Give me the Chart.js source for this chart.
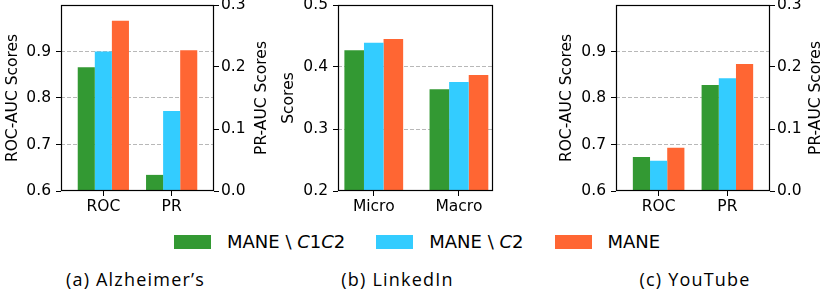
<!DOCTYPE html>
<html>
<head>
<meta charset="utf-8">
<script src="https://cdn.jsdelivr.net/npm/chart.js@4"></script>
<style>
  html, body { margin: 0; padding: 0; background: #fff; }
  body { width: 820px; height: 298px; position: relative; overflow: hidden; }
  .panel { position: absolute; top: 0; }
  #legend { position: absolute; top: 231px; left: 174px; display: flex; align-items: center;
    font-family: "DejaVu Sans"; font-size: 18px; color: #000; white-space: nowrap; }
  .item { display: flex; align-items: center; margin-right: 31px; }
  .swatch { width: 37px; height: 14px; margin-right: 16px; }
  .caption { position: absolute; top: 267px; font-family: "Open Sans"; font-size: 18px; letter-spacing: 1.2px;
    color: #000; transform: translateX(-50%); white-space: nowrap; }
</style>
</head>
<body>
<canvas id="alz" class="panel" width="275" height="218" style="left:0px"></canvas>
<canvas id="linkedin" class="panel" width="222" height="218" style="left:276px"></canvas>
<canvas id="youtube" class="panel" width="275" height="218" style="left:554px"></canvas>
<div id="legend"></div>
<div class="caption" style="left:135.5px">(a) Alzheimer’s</div>
<div class="caption" style="left:397.5px">(b) LinkedIn</div>
<div class="caption" style="left:695px">(c) YouTube</div>
<script>
const methods = ['MANE \\ <i>C</i>1<i>C</i>2', 'MANE \\ <i>C</i>2', 'MANE'];
const colors = ['#339933', '#33ccff', '#ff6633'];

// (a) Alzheimer's: ROC on left axis, PR on right axis
const alzCategories = ['ROC', 'PR'];
const alzRoc = [0.866, 0.900, 0.966];
const alzPr = [0.026, 0.129, 0.227];

// (b) LinkedIn
const linkedinCategories = ['Micro', 'Macro'];
const linkedinMicro = [0.427, 0.439, 0.445];
const linkedinMacro = [0.364, 0.376, 0.387];

// (c) YouTube
const youtubeCategories = ['ROC', 'PR'];
const youtubeRoc = [0.673, 0.665, 0.693];
const youtubePr = [0.171, 0.182, 0.205];

const rocTicks = [0.6, 0.7, 0.8, 0.9];
const prTicks = [0.0, 0.1, 0.2, 0.3];
const scoreTicks = [0.2, 0.3, 0.4, 0.5];

const FS = 15.5;
const font = { family: 'DejaVu Sans', size: FS };

// legend (html, shared by the three panels)
const legend = document.getElementById('legend');
methods.forEach((m, i) => {
  const item = document.createElement('div');
  item.className = 'item';
  item.innerHTML = '<div class="swatch" style="background:' + colors[i] + '"></div><span>' + m + '</span>';
  legend.appendChild(item);
});

// black box around the plot area
const frame = {
  id: 'frame',
  afterDatasetsDraw(chart) {
    const {ctx, chartArea: a} = chart;
    const l = Math.round(a.left) + 0.5, t = Math.round(a.top) + 0.5;
    const r = Math.round(a.right) - 0.5, b = Math.round(a.bottom) - 0.5;
    ctx.save();
    ctx.strokeStyle = '#000';
    ctx.lineWidth = 1.2;
    ctx.strokeRect(l, t, r - l, b - t);
    ctx.restore();
  }
};

// right axis title, reading bottom to top like the left one
const rightTitle = {
  id: 'rightTitle',
  afterDraw(chart, args, opts) {
    const s = chart.scales.y1;
    if (!s || !opts.text) return;
    const ctx = chart.ctx;
    ctx.save();
    ctx.font = FS + 'px "DejaVu Sans"';
    ctx.fillStyle = '#000';
    ctx.textAlign = 'center';
    ctx.textBaseline = 'middle';
    ctx.translate(s.right - 4 - FS * 0.6, (chart.chartArea.top + chart.chartArea.bottom) / 2);
    ctx.rotate(-Math.PI / 2);
    ctx.fillText(opts.text, 0, 0);
    ctx.restore();
  }
};

function yScale(ticks, position, width, title, withGrid) {
  const lo = ticks[0];
  return {
    type: 'linear',
    position: position,
    min: lo,
    max: position === 'left' && title !== 'Scores' ? 1.0 : ticks[ticks.length - 1],
    afterBuildTicks: s => { s.ticks = ticks.map(v => ({value: v})); },
    afterFit: s => { s.width = width; s.paddingTop = 0; s.paddingBottom = 0; },
    ticks: { color: '#000', font, padding: position === 'left' ? 5 : 2, callback: v => v.toFixed(1) },
    grid: {
      drawOnChartArea: withGrid,
      color: c => (c.tick && (c.tick.value === lo || c.tick.value === 0.5)) ? 'rgba(0,0,0,0)' : '#b8b8b8',
      lineWidth: 1,
      tickLength: 5,
      tickColor: '#000',
      tickWidth: 1
    },
    border: { display: false, dash: [4, 2] },
    title: { display: position === 'left', text: title, color: '#000', font, padding: {top: 4, bottom: 4} }
  };
}

function xScale(categories, min, max) {
  return {
    type: 'linear',
    min: min,
    max: max,
    offset: false,
    afterBuildTicks: s => { s.ticks = categories.map((_, i) => ({value: i})); },
    afterFit: s => { s.height = 27; s.paddingLeft = 0; s.paddingRight = 0; },
    ticks: { color: '#000', font, padding: 2, maxRotation: 0, autoSkip: false, callback: (v, i) => categories[i] },
    grid: { offset: false, drawOnChartArea: false, tickLength: 5, tickColor: '#000', tickWidth: 1 },
    border: { display: false }
  };
}

function baseOptions(groupWidth, rightText) {
  return {
    responsive: false,
    animation: false,
    layout: { padding: { top: 5, right: 0, left: 0, bottom: 0 } },
    datasets: { bar: { skipNull: true, categoryPercentage: groupWidth, barPercentage: 1, borderWidth: 0 } },
    plugins: { legend: { display: false }, tooltip: { enabled: false }, rightTitle: { text: rightText } }
  };
}

// panel with two metrics on two y axes
function dualChart(id, categories, first, second, leftWidth, rightWidth) {
  const datasets = [];
  methods.forEach((m, i) => datasets.push({ label: m, data: [first[i], null], backgroundColor: colors[i], yAxisID: 'y' }));
  methods.forEach((m, i) => datasets.push({ label: m, data: [null, second[i]], backgroundColor: colors[i], yAxisID: 'y1' }));
  const options = baseOptions(0.75, 'PR-AUC Scores');
  options.scales = {
    x: xScale(categories, -0.62, 1.62),
    y: yScale(rocTicks, 'left', leftWidth, 'ROC-AUC Scores', true),
    y1: yScale(prTicks, 'right', rightWidth, 'PR-AUC Scores', false)
  };
  return new Chart(document.getElementById(id), {
    type: 'bar',
    data: { labels: categories.map((_, i) => i), datasets },
    options,
    plugins: [frame, rightTitle]
  });
}

dualChart('alz', alzCategories, alzRoc, alzPr, 61, 61);
dualChart('youtube', youtubeCategories, youtubeRoc, youtubePr, 62, 59);

// LinkedIn panel, single axis
const liOptions = baseOptions(0.69, '');
liOptions.layout.padding.right = 5;
liOptions.scales = {
  x: xScale(linkedinCategories, -0.42, 1.40),
  y: yScale(scoreTicks, 'left', 62, 'Scores', true)
};
new Chart(document.getElementById('linkedin'), {
  type: 'bar',
  data: {
    labels: linkedinCategories.map((_, i) => i),
    datasets: methods.map((m, i) => ({ label: m, data: [linkedinMicro[i], linkedinMacro[i]], backgroundColor: colors[i] }))
  },
  options: liOptions,
  plugins: [frame]
});
</script>
</body>
</html>
